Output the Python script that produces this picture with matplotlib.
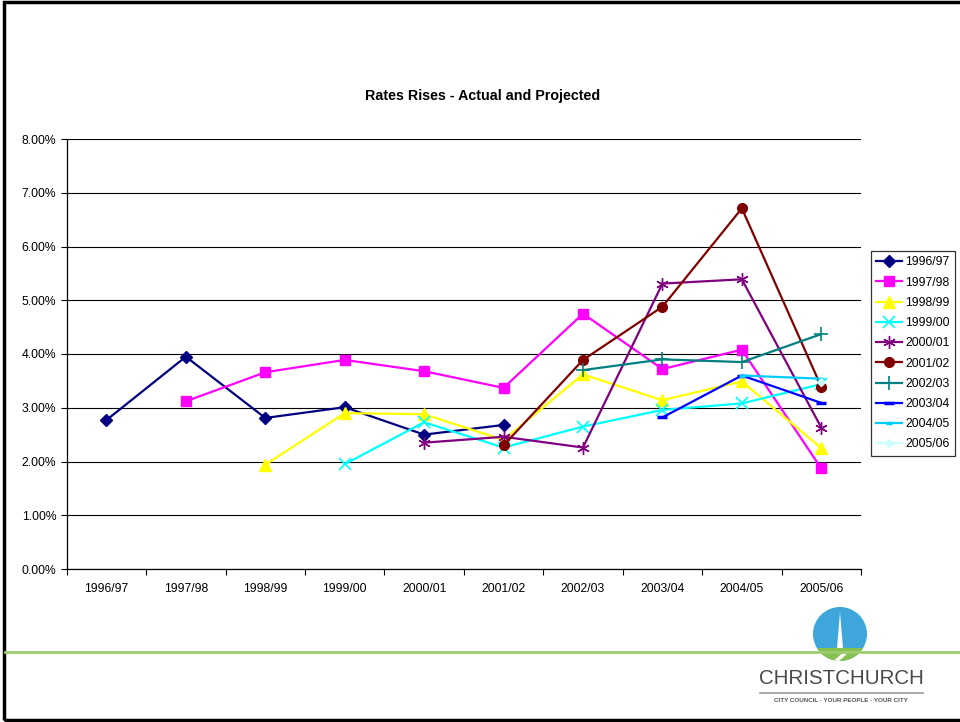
import numpy as np
import matplotlib
matplotlib.use("Agg")
import matplotlib.pyplot as plt
from matplotlib.ticker import FuncFormatter, FixedLocator
from matplotlib.patches import Circle, Rectangle, Polygon

plt.rcParams['font.family'] = ['Liberation Sans', 'DejaVu Sans']

nan = np.nan
categories = ["1996/97", "1997/98", "1998/99", "1999/00", "2000/01",
              "2001/02", "2002/03", "2003/04", "2004/05", "2005/06"]

s_1996_97 = [2.77, 3.95, 2.81, 3.01, 2.50, 2.68, nan, nan, nan, nan]
s_1997_98 = [nan, 3.12, 3.66, 3.89, 3.68, 3.37, 4.75, 3.72, 4.08, 1.87]
s_1998_99 = [nan, nan, 1.94, 2.90, 2.88, 2.40, 3.62, 3.14, 3.49, 2.25]
s_1999_00 = [nan, nan, nan, 1.95, 2.73, 2.26, 2.65, 2.96, 3.08, 3.44]
s_2000_01 = [nan, nan, nan, nan, 2.35, 2.46, 2.26, 5.31, 5.39, 2.63]
s_2001_02 = [nan, nan, nan, nan, nan, 2.30, 3.89, 4.88, 6.71, 3.39]
s_2002_03 = [nan, nan, nan, nan, nan, nan, 3.70, 3.90, 3.85, 4.37]
s_2003_04 = [nan, nan, nan, nan, nan, nan, nan, 2.82, 3.60, 3.09]
s_2004_05 = [nan, nan, nan, nan, nan, nan, nan, nan, 3.60, 3.54]
s_2005_06 = [nan, nan, nan, nan, nan, nan, nan, nan, nan, 3.48]

series_names = categories
series_values = [s_1996_97, s_1997_98, s_1998_99, s_1999_00, s_2000_01,
                 s_2001_02, s_2002_03, s_2003_04, s_2004_05, s_2005_06]
colors = ['#000080', '#FF00FF', '#FFFF00', '#00FFFF', '#800080',
          '#800000', '#008080', '#0000FF', '#00CCFF', '#CCFFFF']
styles = [dict(marker='D', ms=6),
          dict(marker='s', ms=7),
          dict(marker='^', ms=8),
          dict(marker='x', ms=8, mew=1.2),
          dict(marker=(6, 2, 0), ms=9, mew=1.0),
          dict(marker='o', ms=7),
          dict(marker='+', ms=10, mew=1.2),
          dict(marker='_', ms=7, mew=2.5),
          dict(marker='_', ms=5, mew=2.5),
          dict(marker='D', ms=4)]

W, H = 960, 722
fig = plt.figure(figsize=(W / 100, H / 100), dpi=100)

def fx(px):
    return px / W

def fy(py):
    return 1 - py / H

# slide frame
fig.patches.append(Rectangle((fx(4), fy(720)), fx(970), fy(2) - fy(720),
                             transform=fig.transFigure, fill=False,
                             edgecolor='black', linewidth=2.5, zorder=0))
# green rule
fig.lines.append(plt.Line2D([fx(5), fx(960)], [fy(652), fy(652)],
                            transform=fig.transFigure, color='#9CCB6E',
                            linewidth=2, zorder=1))

ax = fig.add_axes([fx(66.7), fy(569), fx(861) - fx(66.7), fy(139) - fy(569)])
x = np.arange(len(categories))
for name, vals, c, st in zip(series_names, series_values, colors, styles):
    v = np.array(vals, dtype=float) / 100.0
    ax.plot(x, v, color=c, linewidth=1.6, label=name,
            markerfacecolor=c, markeredgecolor=c, **st)

ax.set_xlim(-0.5, len(categories) - 0.5)
ax.set_ylim(0, 0.08)
ax.set_yticks(np.arange(0, 0.0801, 0.01))
ax.yaxis.set_major_formatter(FuncFormatter(lambda v, p: f"{v * 100:.2f}%"))
ax.set_xticks(x)
ax.set_xticklabels(categories)
ax.xaxis.set_minor_locator(FixedLocator(np.arange(-0.5, len(categories), 1.0)))
ax.tick_params(axis='x', which='major', length=0, labelsize=8.7, pad=10)
ax.tick_params(axis='x', which='minor', length=4, direction='out', width=0.8)
ax.tick_params(axis='y', length=4, direction='out', labelsize=8.7, width=0.8)
ax.grid(axis='y', color='black', linewidth=0.8)
ax.set_axisbelow(True)
for side in ['top', 'right']:
    ax.spines[side].set_visible(False)
ax.spines['left'].set_linewidth(0.9)
ax.spines['bottom'].set_linewidth(0.9)

fig.text(fx(483), fy(96), "Rates Rises - Actual and Projected",
         ha='center', va='center', fontsize=10.3, fontweight='bold')

leg = ax.legend(loc='upper left', bbox_to_anchor=(fx(871), fy(251)),
                bbox_transform=fig.transFigure, fontsize=8.7, frameon=True,
                fancybox=False, edgecolor='black', handlelength=2.1,
                borderpad=0.45, labelspacing=0.68, handletextpad=0.3,
                borderaxespad=0)
leg.get_frame().set_linewidth(0.9)

# logo
lax = fig.add_axes([fx(800), fy(665), fx(880) - fx(800), fy(600) - fy(665)])
lax.set_xlim(800, 880)
lax.set_ylim(665, 600)
lax.set_aspect('equal')
lax.axis('off')
circ = Circle((840, 634), 27, facecolor='#3EA6DA', edgecolor='none')
lax.add_patch(circ)
clip = Circle((840, 634), 27, transform=lax.transData)
green = Rectangle((800, 648), 80, 20, facecolor='#86C04D', edgecolor='none')
green.set_clip_path(clip)
lax.add_patch(green)
spire = Polygon([[837, 648], [840, 612], [843, 648]], closed=True,
                facecolor='white', edgecolor='none')
lax.add_patch(spire)
river = Polygon([[832, 662], [845, 651], [850, 651], [838, 662]], closed=True,
                facecolor='white', edgecolor='none')
river.set_clip_path(clip)
lax.add_patch(river)

fig.text(fx(841), fy(679), "CHRISTCHURCH", ha='center', va='center',
         fontsize=14.8, color='#4A4A4A')
fig.lines.append(plt.Line2D([fx(760), fx(923)], [fy(693), fy(693)],
                            transform=fig.transFigure, color='#999999',
                            linewidth=1.2))
fig.text(fx(841), fy(701), "CITY COUNCIL · YOUR PEOPLE · YOUR CITY",
         ha='center', va='center', fontsize=4.5, color='#555555',
         fontweight='bold')

fig.savefig("out.png", dpi=100)
